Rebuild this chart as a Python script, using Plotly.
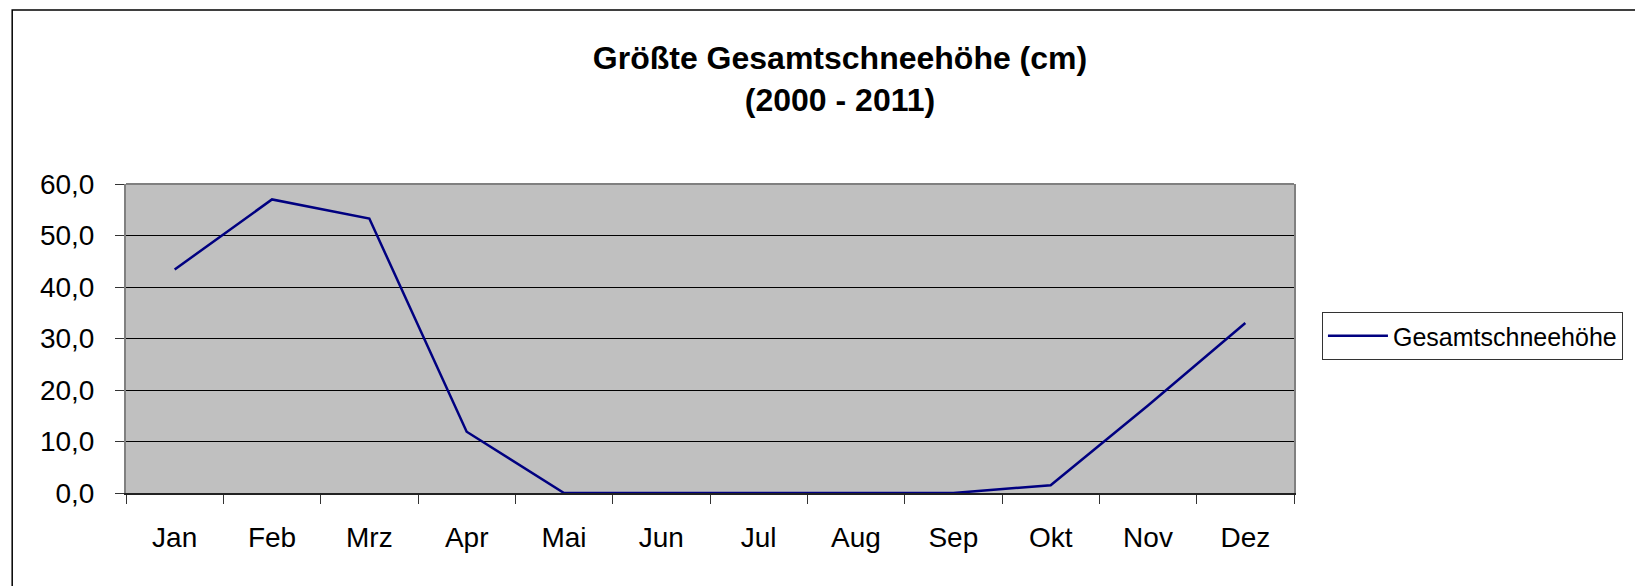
import plotly.graph_objects as go

months = ["Jan", "Feb", "Mrz", "Apr", "Mai", "Jun", "Jul", "Aug", "Sep", "Okt", "Nov", "Dez"]
snow_depth = [43.4, 57.0, 53.3, 11.9, 0.0, 0.0, 0.0, 0.0, 0.0, 1.5, 17.0, 33.0]
series_name = "Gesamtschneehöhe"
title_text = "<b>Größte Gesamtschneehöhe (cm)<br>(2000 - 2011)</b>"
y_ticks = [0, 10, 20, 30, 40, 50, 60]

W, H = 1635, 586
L, R, T, B = 126, 339, 184, 93
pw = W - L - R
ph = H - T - B

def px_x(px):
    return (px - L) / pw

def px_y(py):
    return (H - B - py) / ph

FONT = "Liberation Sans, Arial, sans-serif"

fig = go.Figure()
fig.add_trace(go.Scatter(
    x=months, y=snow_depth, mode="lines", name=series_name,
    line=dict(color="#000080", width=2.5),
))

fig.update_layout(
    width=W, height=H,
    margin=dict(l=L, r=R, t=T, b=B),
    paper_bgcolor="white",
    plot_bgcolor="#C0C0C0",
    separators=",.",
    font=dict(family=FONT, color="black", size=28),
    title=dict(
        text=title_text,
        font=dict(family=FONT, size=32, color="black"),
        xref="container", yref="container",
        x=840 / W, xanchor="center",
        y=1 - 69 / H, yanchor="middle",
    ),
    showlegend=True,
    legend=dict(
        x=px_x(1324), xanchor="left",
        y=px_y(336), yanchor="middle",
        bgcolor="white", bordercolor="#333333", borderwidth=1,
        itemwidth=60,
        font=dict(family=FONT, size=25, color="black"),
    ),
    xaxis=dict(
        type="category",
        range=[-0.5, 11.5],
        showgrid=False,
        showline=True, linecolor="#222222", linewidth=2,
        ticks="outside", ticklen=9, tickwidth=1, tickcolor="#333333",
        tickson="boundaries",
        ticklabelstandoff=18,
        tickfont=dict(family=FONT, size=28, color="black"),
        zeroline=False,
    ),
    yaxis=dict(
        range=[0, 60],
        tickvals=y_ticks,
        tickformat=".1f",
        showgrid=True, gridcolor="black", gridwidth=1,
        showline=True, linecolor="#808080", linewidth=2, mirror=True,
        ticks="outside", ticklen=9, tickwidth=1, tickcolor="#333333",
        ticklabelstandoff=15,
        tickfont=dict(family=FONT, size=28, color="black"),
        zeroline=False,
    ),
    shapes=[
        dict(type="line", xref="paper", yref="paper", x0=0, x1=1, y0=1, y1=1,
             line=dict(color="#808080", width=2)),
        dict(type="rect", xref="paper", yref="paper",
             x0=px_x(12), x1=px_x(1700), y0=px_y(10), y1=px_y(620),
             line=dict(color="black", width=1.5), layer="below"),
    ],
)

fig.write_html(
    "out.html",
    config={"displayModeBar": False},
    post_script="document.body.style.margin='0';document.body.style.overflow='hidden';",
)
